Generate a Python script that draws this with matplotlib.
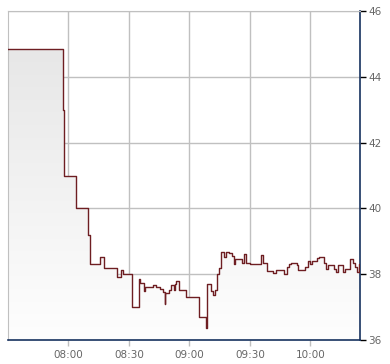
import numpy as np
import pandas as pd
import matplotlib
matplotlib.use("Agg")
import matplotlib.pyplot as plt
import matplotlib.dates as mdates
from matplotlib.colors import LinearSegmentedColormap

# step series (time the value starts, value)
times = [
    "07:30:00", "07:57:11", "07:57:40", "08:03:49", "08:09:45", "08:10:38",
    "08:15:41", "08:17:29", "08:24:07", "08:25:53", "08:27:05", "08:31:32",
    "08:35:00", "08:35:24", "08:37:37", "08:37:58", "08:41:44", "08:43:25",
    "08:45:33", "08:46:41", "08:47:43", "08:48:07", "08:49:39", "08:50:50",
    "08:52:08", "08:52:37", "08:53:07", "08:54:36", "08:58:16", "09:04:51",
    "09:08:19", "09:08:42", "09:10:32", "09:11:38", "09:12:37", "09:13:36",
    "09:14:35", "09:15:35", "09:17:22", "09:18:13", "09:19:51", "09:21:11",
    "09:22:20", "09:22:40", "09:24:18", "09:26:00", "09:27:08", "09:28:07",
    "09:30:06", "09:35:24", "09:36:23", "09:38:40", "09:41:38", "09:42:58",
    "09:47:04", "09:48:16", "09:49:25", "09:50:24", "09:53:12", "09:53:42",
    "09:57:20", "09:58:40", "09:59:56", "10:00:38", "10:03:25", "10:04:24",
    "10:06:53", "10:07:43", "10:08:52", "10:11:50", "10:12:40", "10:13:49",
    "10:16:17", "10:17:07", "10:19:36", "10:20:55", "10:22:04", "10:23:04",
    "10:24:03", "10:24:36",
]
prices = [
    44.85, 43.0, 41.0, 40.0, 39.2, 38.3,
    38.52, 38.2, 37.9, 38.12, 38.0, 37.0,
    37.85, 37.72, 37.5, 37.6, 37.67, 37.6,
    37.56, 37.46, 37.1, 37.42, 37.52, 37.67,
    37.53, 37.7, 37.78, 37.52, 37.3, 36.69,
    36.37, 37.7, 37.5, 37.37, 37.52, 38.0,
    38.18, 38.68, 38.51, 38.67, 38.63, 38.55,
    38.31, 38.47, 38.45, 38.35, 38.6, 38.33,
    38.3, 38.58, 38.33, 38.1, 38.05, 38.12,
    38.02, 38.23, 38.3, 38.33, 38.27, 38.13,
    38.23, 38.41, 38.3, 38.41, 38.48, 38.53,
    38.33, 38.16, 38.27, 38.16, 38.08, 38.27,
    38.08, 38.16, 38.46, 38.33, 38.23, 38.08,
    38.3, 38.3,
]
x_ticks = ["08:00", "08:30", "09:00", "09:30", "10:00"]
y_ticks = [36, 38, 40, 42, 44, 46]

day = "2020-01-01 "
t = mdates.date2num(pd.to_datetime([day + s for s in times]))
p = np.array(prices)
xt = mdates.date2num(pd.to_datetime([day + s for s in x_ticks]))

fig = plt.figure(figsize=(3.9, 3.64), dpi=100)
ax = fig.add_axes([8 / 390, 24 / 364, 352 / 390, 329 / 364])

x0, x1 = t[0], t[-1]
ax.set_xlim(x0, x1)
ax.set_ylim(36, 46)

# gray gradient under the line
fill = ax.fill_between(t, p, 36, step="post", facecolor="none", edgecolor="none")
cmap = LinearSegmentedColormap.from_list("g", ["#fefefe", "#e4e4e4"])
grad = np.linspace(0, 1, 256).reshape(-1, 1)
img = ax.imshow(grad, extent=[x0, x1, 36, 46], origin="lower", aspect="auto",
                cmap=cmap, zorder=1)
img.set_clip_path(fill.get_paths()[0], transform=ax.transData)

ax.plot(t, p, drawstyle="steps-post", color="#6e1e22", lw=1.0, zorder=3)

ax.set_xticks(xt)
ax.set_xticklabels(x_ticks)
ax.set_yticks(y_ticks)
ax.yaxis.tick_right()

ax.grid(True, color="#c0c0c0", lw=1)
ax.set_axisbelow(True)

for side in ["left", "top"]:
    ax.spines[side].set_color("#c0c0c0")
for side in ["right", "bottom"]:
    ax.spines[side].set_color("#17325f")
    ax.spines[side].set_linewidth(1.2)

ax.tick_params(axis="y", direction="out", length=4, width=1, color="#000000",
               labelsize=7.5, labelcolor="#666666", pad=2)
ax.tick_params(axis="x", direction="out", length=4, width=1, color="#c0c0c0",
               labelsize=7.5, labelcolor="#666666", pad=3)

fig.savefig("out.png", dpi=100)
